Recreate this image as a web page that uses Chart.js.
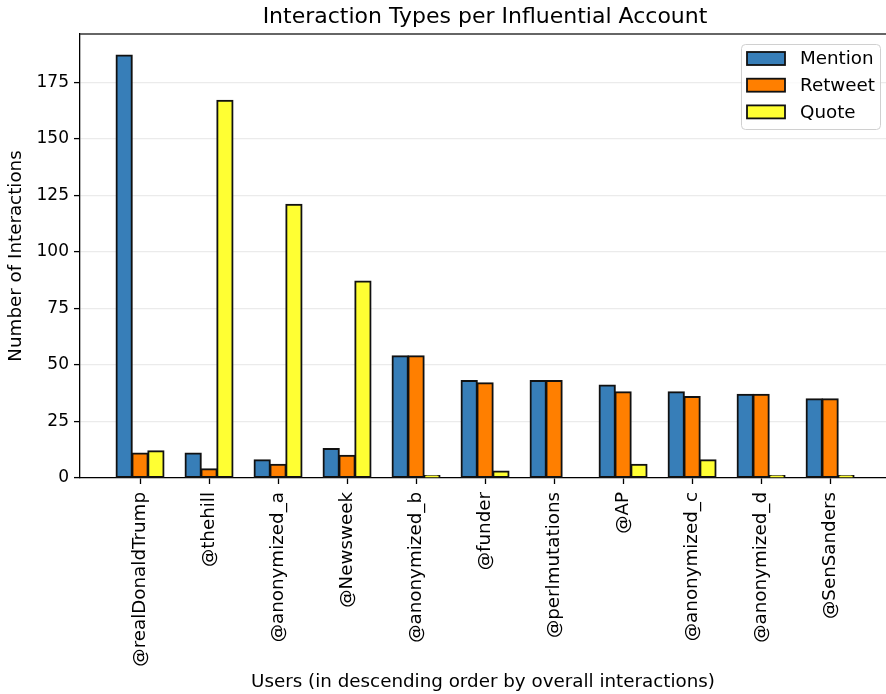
<!DOCTYPE html>
<html>
<head>
<meta charset="utf-8">
<script src="https://cdn.jsdelivr.net/npm/chart.js@4/dist/chart.umd.min.js"></script>
<style>
  html, body { margin: 0; padding: 0; background: #fff; }
  #wrap { width: 886px; height: 694px; position: relative; }
</style>
</head>
<body>
<div id="wrap"><canvas id="chart"></canvas></div>
<script>
// values
const users = ['@realDonaldTrump', '@thehill', '@anonymized_a', '@Newsweek', '@anonymized_b',
  '@funder', '@perlmutations', '@AP', '@anonymized_c', '@anonymized_d', '@SenSanders'];
const mention = [187, 11, 8, 13, 54, 43, 43, 41, 38, 37, 35];
const retweet = [11, 4, 6, 10, 54, 42, 43, 38, 36, 37, 35];
const quote = [12, 167, 121, 87, 1, 3, 0, 6, 8, 1, 1];
const yTicks = [0, 25, 50, 75, 100, 125, 150, 175];

const FONT = "'DejaVu Sans', sans-serif";
const TXT = 18.3;
const points = arr => arr.map((v, i) => ({ x: i, y: v }));

function series(label, values, color) {
  return {
    label: label,
    data: points(values),
    backgroundColor: color,
    borderColor: '#111',
    borderWidth: 2,
    borderSkipped: false,
    inflateAmount: 0.7,
    barPercentage: 1,
    categoryPercentage: 0.69
  };
}

// title, top spine and the in-plot legend box
const decor = {
  id: 'decor',
  afterDraw(chart) {
    const ctx = chart.ctx;
    const a = chart.chartArea;
    ctx.save();
    ctx.strokeStyle = '#333';
    ctx.lineWidth = 1.3;
    ctx.beginPath();
    ctx.moveTo(a.left, a.top);
    ctx.lineTo(a.right, a.top);
    ctx.stroke();

    ctx.fillStyle = '#000';
    ctx.font = '22px ' + FONT;
    ctx.textAlign = 'center';
    ctx.textBaseline = 'middle';
    ctx.fillText('Interaction Types per Influential Account', 485, 17);

    // legend
    const bx = 741, by = 44, bw = 139, bh = 85;
    ctx.fillStyle = 'rgba(255,255,255,0.8)';
    ctx.strokeStyle = '#d0d0d0';
    ctx.lineWidth = 1;
    ctx.beginPath();
    ctx.roundRect(bx + 0.5, by + 0.5, bw, bh, 4);
    ctx.fill();
    ctx.stroke();
    ctx.font = TXT + 'px ' + FONT;
    ctx.textAlign = 'left';
    chart.data.datasets.forEach((ds, i) => {
      const cy = 58.5 + i * 26.7;
      ctx.fillStyle = ds.backgroundColor;
      ctx.fillRect(747, cy - 6.5, 38, 13);
      ctx.strokeStyle = '#111';
      ctx.lineWidth = 1.8;
      ctx.strokeRect(747, cy - 6.5, 38, 13);
      ctx.fillStyle = '#000';
      ctx.fillText(ds.label, 800, cy + 1);
    });
    ctx.restore();
  }
};

new Chart(document.getElementById('chart'), {
  type: 'bar',
  data: {
    datasets: [
      series('Mention', mention, '#377eb8'),
      series('Retweet', retweet, '#ff7f00'),
      series('Quote', quote, '#ffff33')
    ]
  },
  options: {
    responsive: true,
    maintainAspectRatio: false,
    animation: false,
    layout: { padding: { top: 34, right: 0, left: 0, bottom: 0 } },
    plugins: {
      legend: { display: false },
      title: { display: false },
      tooltip: { enabled: false }
    },
    scales: {
      x: {
        type: 'linear',
        min: -0.87,
        max: 10.81,
        offset: false,
        grid: { offset: false, drawOnChartArea: false, drawTicks: true, tickLength: 6, tickColor: '#000', tickWidth: 1.3 },
        border: { color: '#000', width: 1.3 },
        afterBuildTicks: s => { s.ticks = users.map((_, i) => ({ value: i })); },
        afterFit: s => { s.height = 216; s.paddingLeft = 0; s.paddingRight = 0; },
        ticks: {
          autoSkip: false,
          minRotation: 90,
          maxRotation: 90,
          padding: 8,
          color: '#000',
          font: { family: FONT, size: TXT },
          callback: v => users[v]
        },
        title: {
          display: true,
          text: 'Users (in descending order by overall interactions)',
          color: '#000',
          font: { family: FONT, size: TXT },
          padding: { top: 0, bottom: 1 }
        }
      },
      y: {
        min: 0,
        max: 196.35,
        grid: { color: '#ebebeb', lineWidth: 1.2, drawTicks: true, tickLength: 6, tickColor: '#000', tickWidth: 1.3 },
        border: { color: '#000', width: 1.3 },
        afterBuildTicks: s => { s.ticks = yTicks.map(v => ({ value: v })); },
        afterFit: s => { s.width = 80; },
        ticks: {
          padding: 5,
          color: '#000',
          font: { family: FONT, size: 17 }
        },
        title: {
          display: true,
          text: 'Number of Interactions',
          color: '#000',
          font: { family: FONT, size: TXT },
          padding: { top: 5, bottom: 4 }
        }
      }
    }
  },
  plugins: [decor]
});
</script>
</body>
</html>
